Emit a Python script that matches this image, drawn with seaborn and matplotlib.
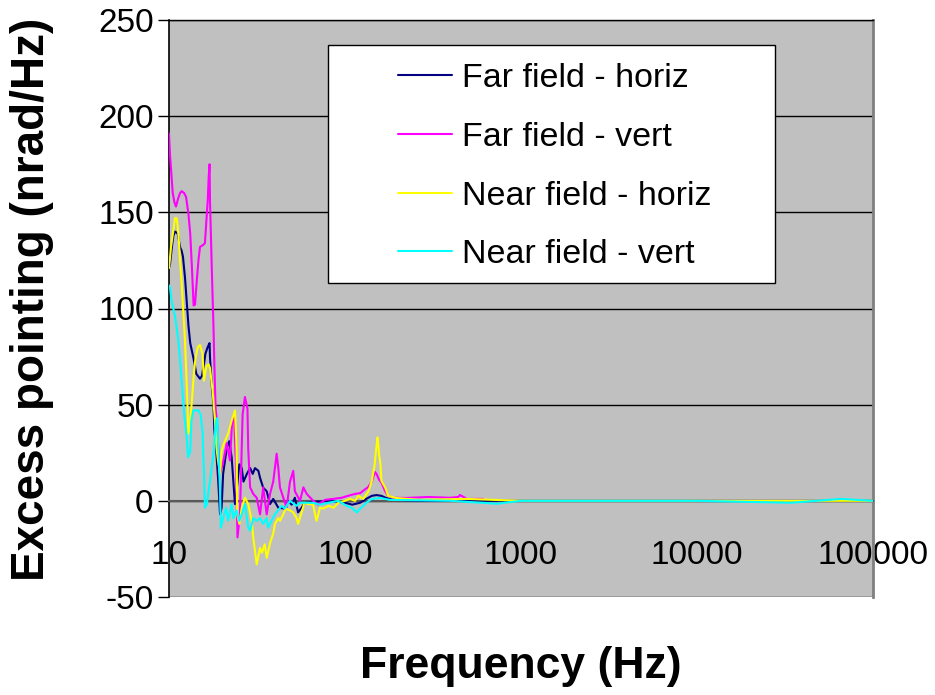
import numpy as np
import pandas as pd
import matplotlib
matplotlib.use("Agg")
import matplotlib.pyplot as plt
from matplotlib.patches import Rectangle
from matplotlib.ticker import NullLocator
import seaborn as sns

# ---------------- data ----------------
series_names = ["Far field - horiz", "Far field - vert", "Near field - horiz", "Near field - vert"]
series_colors = ["#000080", "#FF00FF", "#FFFF00", "#00FFFF"]

far_h_freq = [10.0, 10.13, 10.27, 10.45, 10.6, 10.82, 11.2, 11.55, 11.8, 12.0, 12.33, 12.6, 12.9, 13.2,
              13.75, 14.3, 15.0, 15.4, 15.8, 16.1, 16.6, 17.0, 17.1, 17.5, 17.9, 18.1, 18.5, 19.05, 19.5,
              19.9, 20.3, 21.3, 22.0, 22.7, 23.2, 23.7, 24.2, 25.1, 25.9, 26.5, 27.7, 28.9, 29.9, 30.8,
              32.2, 32.9, 34.3, 35.9, 37.5, 39.1, 41.8, 45.5, 47.6, 49.8, 51.9, 54.1, 56.7, 59.2, 67, 82,
              100, 110, 122, 132, 142, 151, 161, 171, 187, 267, 450, 1000, 10000, 100000]
far_h_val = [121, 123, 128, 134, 138, 140, 139, 132, 130, 127, 116, 104, 91, 82,
             74.5, 66, 63.5, 65, 71, 76.5, 80, 82, 74.5, 60, 50, 37, 27.6, 10, -7,
             -3.6, 14, 27.6, 31, 22.6, 10.4, -1.7, 5, 19, 17, 10, 14, 17, 14, 17,
             15.6, 12, 6.8, 5, -1.7, 1, -3.6, -4, 0, -2, 1.6, -6, -3.6, -1, -0.5, 0,
             -1, -2, -1, 1, 2.6, 3, 2.6, 1.5, 0.5, 0, 0, 0, 0, 0]

far_v_freq = [10.0, 10.13, 10.35, 10.5, 10.75, 10.96, 11.25, 11.55, 11.8, 12.2, 12.5, 12.9, 13.2, 13.5,
              13.8, 14.05, 14.4, 14.7, 15.0, 15.6, 16.0, 16.4, 16.6, 16.8, 17.0, 17.1, 17.5, 17.9, 18.1,
              18.4, 18.7, 19.0, 19.5, 20.3, 21.3, 22.2, 22.8, 23.4, 24.0, 24.5, 25.3, 26.2, 27.0, 27.9,
              28.2, 28.9, 30.1, 31.5, 32.9, 34.3, 35.9, 37.5, 39.1, 40.9, 41.8, 42.7, 44.6, 46.6, 48.7,
              50.8, 51.9, 55.5, 58.0, 60.6, 66.0, 70.2, 76.9, 85.5, 95.8, 104, 114, 122, 130, 135, 142,
              148, 151, 156, 161, 169, 176, 188, 224, 297, 395, 440, 450, 494, 549, 609]
far_v_val = [191, 180, 168, 160, 155, 153, 157, 160, 161, 160, 158, 149, 139, 121,
             101.6, 102, 115, 125, 132, 133, 134, 149, 156, 168, 175, 156, 121, 90, 71,
             48, 42, 30, 14, 20, 30, 21, 40, 45, 20, -19, -7, 45, 54, 48,
             27, 7, 3.6, 1.6, -7, 7, -7, 3.6, 10, 24.5, 17, 7, 1.6, -3.6, 10,
             15.6, 5, 0, 7, 3.6, 0, -2, 0.5, 1, 1.6, 2.6, 3.6, 4, 6, 7, 10,
             15, 14, 11, 9.5, 5, 2.6, 1.6, 1.5, 2, 1.6, 2, 3, 1, 1, 1]

near_h_freq = [10.0, 10.27, 10.6, 10.82, 11.05, 11.2, 11.4, 11.55, 11.8, 12.05, 12.33, 12.6, 12.75, 12.85,
               13.05, 13.4, 13.75, 14.05, 14.3, 14.6, 15.0, 15.5, 15.8, 16.3, 16.8, 17.1, 17.7, 18.25,
               18.6, 19.05, 19.5, 19.9, 20.5, 21.7, 22.7, 23.7, 24.2, 24.4, 25.1, 25.9, 27.0, 28.2, 29.5,
               30.1, 31.5, 32.9, 33.7, 35.0, 35.9, 37.5, 39.1, 40.0, 41.8, 42.7, 44.6, 46.1, 48.7, 50.8,
               53.1, 54.1, 56.7, 58.8, 61.9, 65.8, 68.9, 72.1, 75.3, 80.6, 86.0, 91.6, 100, 107, 114,
               119, 127, 136, 142, 147, 150, 153, 155, 156, 159, 161, 169, 176, 195, 224, 267, 490,
               1000, 10000, 100000]
near_h_val = [121, 132, 141, 147, 147, 143, 134, 125, 113, 99, 83, 61, 48.5, 35,
              38, 48.5, 62.5, 72, 76.5, 80, 81, 76.5, 62.5, 70, 71, 69, 57, 41.7,
              27.6, 20, 14, 26, 29.7, 35, 41.7, 47, 27.6, -7, -12, -3.6, 1.6, -1.7, -10.4,
              -19, -33, -24.5, -27, -22.6, -29.7, -22, -17, -12, -9, -10.4, -7, -4, -5, -6,
              -9, -12, -6, -1, -1.7, -2, -10.4, -3.6, -4, -2.6, -3.6, -1, 0, 1, 0,
              2.6, 1, 5, 10.4, 18, 26, 33, 28, 24.5, 19, 10.4, 7, 2.6, 1.5, 1, 0.5, 1,
              0, 0, 0]

near_v_freq = [10.0, 10.13, 10.35, 10.82, 11.2, 11.4, 11.8, 12.2, 12.6, 12.85, 13.2, 13.4, 13.75, 14.7,
               15.1, 15.55, 15.6, 15.8, 16.0, 16.4, 17.1, 17.9, 18.5, 18.8, 19.05, 19.5, 19.7, 20.3,
               21.1, 21.7, 22.7, 23.2, 24.2, 25.1, 25.9, 27.0, 28.2, 28.9, 30.1, 31.5, 32.9, 34.3,
               35.9, 36.6, 38.2, 40.0, 43.6, 45.5, 48.7, 53.1, 55.5, 66, 72, 80.6, 91.6, 102, 109,
               117, 122, 127, 132, 142, 158, 180, 400, 730, 1000, 10000, 34000, 66000, 100000]
near_v_val = [112, 111, 104, 96, 86, 80, 62.5, 45, 33, 22.6, 26, 41.7, 47, 47,
              45, 35, 27.6, 15.6, -3.6, -1.7, 10.4, 24.5, 41.7, 43, 27.6, 5, -14, -9,
              -3.6, -10.4, -1.7, -9, -5, -10.4, -7, -1.7, -14, -15.6, -9, -10.4, -9, -12,
              -9, -14, -10.4, -7, -2.6, -4, 0, -2.6, -1, -1, -2, -1, 0, -2.6, -3.6,
              -6, -4, -2.6, -1, 1, 1.5, 0.5, 0, -1.5, 0, 0, -1, 1, 0]

x_ticks = [10, 100, 1000, 10000, 100000]
x_tick_labels = ["10", "100", "1000", "10000", "100000"]
y_ticks = [-50, 0, 50, 100, 150, 200, 250]
y_tick_labels = ["-50", "0", "50", "100", "150", "200", "250"]

x_title = "Frequency (Hz)"
y_title = "Excess pointing (nrad/Hz)"

# ---------------- build long table ----------------
freqs = [far_h_freq, far_v_freq, near_h_freq, near_v_freq]
vals = [far_h_val, far_v_val, near_h_val, near_v_val]
frames = []
for name, f, v in zip(series_names, freqs, vals):
    frames.append(pd.DataFrame({"Frequency": f, "Value": v, "Series": name}))
df = pd.concat(frames, ignore_index=True)

# ---------------- plot ----------------
sns.set_theme(style="white")
plt.rcParams["font.family"] = ["Liberation Sans", "DejaVu Sans"]
plt.rcParams["text.color"] = "black"

W, H = 935, 695
fig = plt.figure(figsize=(W / 100, H / 100), dpi=100)
fig.patch.set_facecolor("white")
L, R, T, B = 169, 873, 20, 597
ax = fig.add_axes([L / W, 1 - B / H, (R - L) / W, (B - T) / H])
ax.set_facecolor("#C0C0C0")

sns.lineplot(data=df, x="Frequency", y="Value", hue="Series", hue_order=series_names,
             palette=series_colors, estimator=None, sort=False, linewidth=1.5, ax=ax)
ax.set_xscale("log")
ax.set_xlim(10, 100000)
ax.set_ylim(-50, 250)
for ln in ax.lines:
    ln.set_zorder(3)

ax.set_xticks(x_ticks, labels=x_tick_labels)
ax.xaxis.set_minor_locator(NullLocator())
ax.set_yticks(y_ticks, labels=y_tick_labels)

ax.yaxis.grid(True, color="black", linewidth=1)
ax.xaxis.grid(False)
ax.set_axisbelow(True)

ax.spines["bottom"].set_position(("data", 0))
ax.spines["bottom"].set_color("#5a5a5a")
ax.spines["bottom"].set_linewidth(1.5)
ax.spines["left"].set_color("black")
ax.spines["left"].set_linewidth(1.2)
ax.spines["top"].set_color("black")
ax.spines["top"].set_linewidth(1)
ax.spines["right"].set_color("#808080")
ax.spines["right"].set_linewidth(2)

ax.tick_params(axis="x", direction="out", length=10, width=1.5, color="#404040",
               labelsize=24, pad=18, labelcolor="black")
ax.tick_params(axis="y", direction="out", length=8, width=1, color="black",
               labelsize=24, pad=3, labelcolor="black", left=True)

ax.set_xlabel(x_title, fontsize=32, fontweight="bold", color="black")
ax.set_ylabel(y_title, fontsize=33, fontweight="bold", color="black")
ax.xaxis.set_label_coords(0.5, -0.085)
ax.yaxis.set_label_coords(-0.163, 0.515)

handles, labels = ax.get_legend_handles_labels()
if ax.get_legend() is not None:
    ax.get_legend().remove()
box = Rectangle((0.226, 0.544), 0.635, 0.413, transform=ax.transAxes,
                facecolor="white", edgecolor="black", linewidth=1, zorder=4)
ax.add_patch(box)
leg = ax.legend(handles, labels, loc="upper left", bbox_to_anchor=(0.325, 0.926),
                frameon=False, fontsize=24.5, handlelength=1.6, handletextpad=0.3,
                labelspacing=0.82, borderpad=0, borderaxespad=0)
leg.set_zorder(5)
for lh in leg.get_lines():
    lh.set_linewidth(1.5)
for t in leg.get_texts():
    t.set_color("black")

fig.savefig("out.png", dpi=100, facecolor="white")
